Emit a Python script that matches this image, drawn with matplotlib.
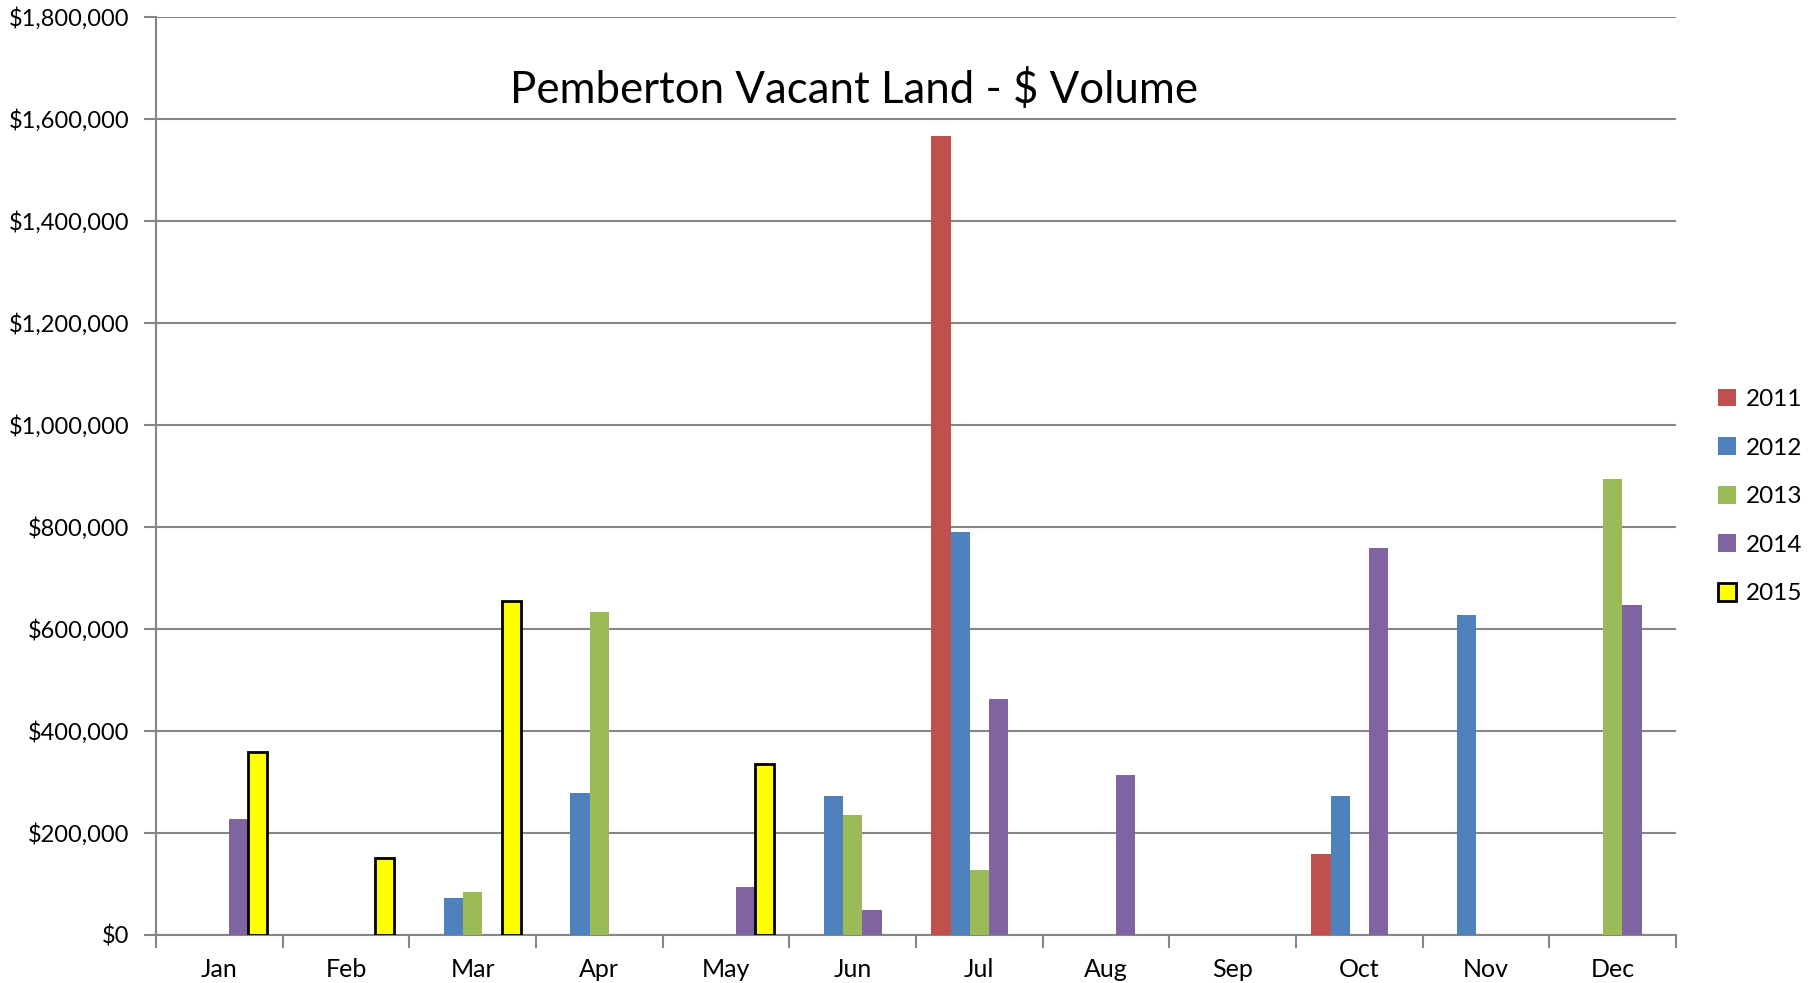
import numpy as np
import matplotlib
matplotlib.use('agg')
from matplotlib import pyplot as plt
from matplotlib.ticker import FuncFormatter

plt.rcParams['font.family'] = ['Lato', 'DejaVu Sans']

months = ['Jan', 'Feb', 'Mar', 'Apr', 'May', 'Jun',
          'Jul', 'Aug', 'Sep', 'Oct', 'Nov', 'Dec']
years = ['2011', '2012', '2013', '2014', '2015']

## dollar volume per month (0 = no sales)
v2011 = [0, 0, 0, 0, 0, 0, 1566000, 0, 0, 159000, 0, 0]
v2012 = [0, 0, 72600, 279000, 0, 272000, 790000, 0, 0, 272000, 627000, 0]
v2013 = [0, 0, 84000, 633000, 0, 234000, 127000, 0, 0, 0, 0, 894000]
v2014 = [227000, 0, 0, 0, 93000, 48000, 463000, 313000, 0, 758000, 0, 647000]
v2015 = [359000, 150000, 654000, 0, 334000, 0, 0, 0, 0, 0, 0, 0]

series = [v2011, v2012, v2013, v2014, v2015]
colors = ['#C0504D', '#4F81BD', '#9BBB59', '#8064A2', '#FFFF00']

fig = plt.figure(figsize=(18.14, 9.83), dpi=100)
ax = fig.add_axes([0.086, 0.049, 0.838, 0.934])

x = np.arange(len(months))
w = 0.152
for i, (vals, col) in enumerate(zip(series, colors)):
    # blank months get no bar (avoids outlined zero-height bars)
    vals = np.array(vals, dtype=float)
    vals[vals == 0] = np.nan
    if years[i] == '2015':
        ax.bar(x + (i - 2) * w, vals, w, color=col, edgecolor='black',
               linewidth=2, label=years[i], zorder=3)
    else:
        ax.bar(x + (i - 2) * w, vals, w, color=col, edgecolor='none',
               label=years[i], zorder=3)

ax.set_xlim(-0.5, 11.5)
ax.set_ylim(0, 1800000)
ax.set_yticks(np.arange(0, 1800001, 200000))
ax.yaxis.set_major_formatter(FuncFormatter(lambda v, p: '${:,.0f}'.format(v)))
ax.yaxis.grid(True, color='#868686', linewidth=1.5, zorder=0)

ax.set_xticks(x)
ax.set_xticklabels(months)
ax.set_xticks(np.arange(-0.5, 12, 1), minor=True)
ax.tick_params(axis='x', which='major', length=0, pad=17, labelsize=18)
ax.tick_params(axis='x', which='minor', length=9, width=1.5, color='#868686')
ax.tick_params(axis='y', length=9, width=1.5, color='#868686', labelsize=17, pad=10)

for s in ['top', 'right']:
    ax.spines[s].set_visible(False)
for s in ['left', 'bottom']:
    ax.spines[s].set_color('#868686')
    ax.spines[s].set_linewidth(1.5)

fig.text(0.471, 0.908, 'Pemberton Vacant Land - $ Volume', ha='center', va='center',
         fontsize=31.5)

leg = fig.legend(loc='center left', bbox_to_anchor=(0.935, 0.495), frameon=False,
                 fontsize=17.5, handlelength=0.75, handleheight=0.75,
                 handletextpad=0.4, labelspacing=1.12)

plt.savefig('out.png')
